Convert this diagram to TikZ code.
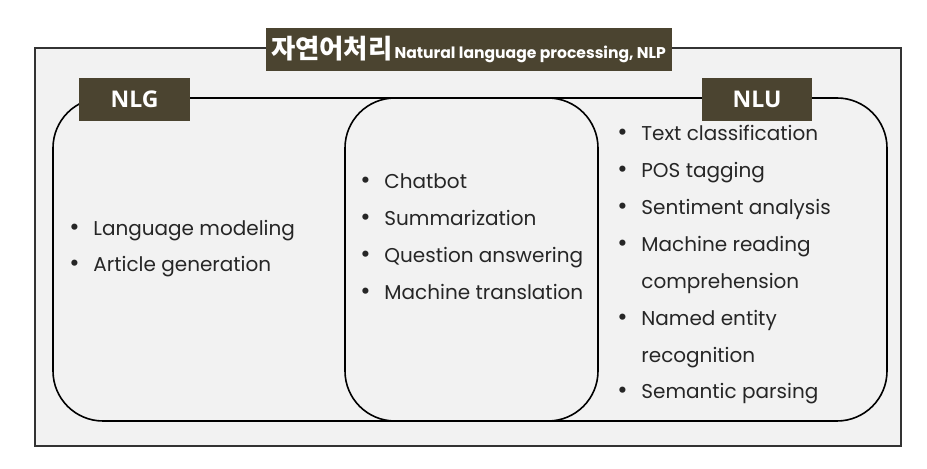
\documentclass[tikz,border=0pt]{standalone}
\usepackage{fontspec}
\setmainfont{Poppins}
\newfontfamily\krfont{Noto Sans CJK KR}
\newfontfamily\tagfont{Open Sans}
\usetikzlibrary{positioning}
\definecolor{nlpbg}{HTML}{F2F2F2}
\definecolor{nlpbrown}{HTML}{4B4430}
\definecolor{nlptext}{HTML}{262626}
\newcommand{\itembullet}{\makebox[12pt][l]{\fontsize{12.5}{12}\selectfont\textbullet}}
\newcommand{\itemgap}{\hspace*{12pt}}

\begin{document}
\begin{tikzpicture}[x=.5pt,y=-.5pt,
    tagbox/.style={fill=nlpbrown,text=white,inner sep=0pt,minimum height=21.5pt},
    group/.style={draw=black,line width=.8pt,rounded corners=25pt},
    item/.style={anchor=base west,inner sep=0pt,text=nlptext,font=\fontsize{10}{12}\selectfont}]
    \useasboundingbox (0,0) rectangle (927,469);
    % frame and the two overlapping groups
    \draw[fill=nlpbg,draw=black!80,line width=.8pt] (35,48) rectangle (901,446);
    \draw[group] (53,98) rectangle (598,421);
    \draw[group] (345,98) rectangle (887,421);
    % labels
    \node[tagbox,minimum width=203pt] (title) at (468.5,49.5)
      {{\krfont\bfseries\fontsize{13.2}{14}\selectfont 자연어처리}\hspace{1pt}{\bfseries\fontsize{7.8}{9}\selectfont Natural language processing, NLP}};
    \node[tagbox,minimum width=55.5pt,font=\tagfont\bfseries\fontsize{11.5}{12}\selectfont] (nlg) at (134.5,99.5) {NLG};
    \node[tagbox,minimum width=55pt,font=\tagfont\bfseries\fontsize{11.5}{12}\selectfont] (nlu) at (757,99.5) {NLU};
    % NLG only
    \foreach \txt [count=\i] in {Language modeling,Article generation}
      \node[item] (nlg-\i) at (69,{236+36*(\i-1)}) {\itembullet\txt};
    % both
    \foreach \txt [count=\i] in {Chatbot,Summarization,Question answering,Machine translation}
      \node[item] (both-\i) at (360,{189+36.7*(\i-1)}) {\itembullet\txt};
    % NLU only
    \foreach \b/\txt [count=\i] in {1/Text classification,1/POS tagging,1/Sentiment analysis,
        1/Machine reading,0/comprehension,1/Named entity,0/recognition,1/Semantic parsing}
      \node[item] (nlu-\i) at (617,{141+36.85*(\i-1)}) {\ifnum\b=1 \itembullet\else\itemgap\fi\txt};
\end{tikzpicture}
\end{document}
